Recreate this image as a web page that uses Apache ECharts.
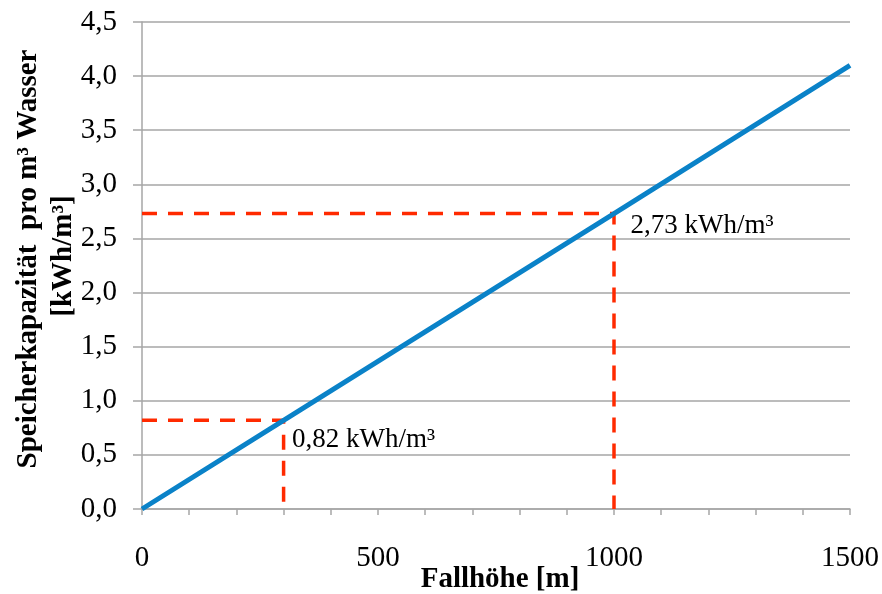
<!DOCTYPE html>
<html>
<head>
<meta charset="utf-8">
<script src="https://cdn.jsdelivr.net/npm/echarts@6/dist/echarts.min.js"></script>
<style>html,body{margin:0;padding:0;background:#fff}#c{width:882px;height:594px}</style>
</head>
<body>
<div id="c"></div>
<script>
// Data
const fallhoehe = [0, 300, 1000, 1500];
const kapazitaet = [0, 0.82, 2.73, 4.1];
const markX = [300, 1000];
const markY = [0.82, 2.73];
const markLabels = ['0,82 kWh/m³', '2,73 kWh/m³'];
const xTicks = [0, 500, 1000, 1500];
const yTitle1 = 'Speicherkapazität  pro m³ Wasser';
const yTitle2 = '[kWh/m³]';
const xTitle = 'Fallhöhe [m]';

const FONT = '"Liberation Serif","Times New Roman",serif';
const chart = echarts.init(document.getElementById('c'), null, {renderer: 'canvas'});

const mainLine = fallhoehe.map((x, i) => [x, kapazitaet[i]]);
const dashSeries = markX.map((x, i) => ({
  type: 'line',
  data: [[0, markY[i]], [x, markY[i]], [x, 0]],
  symbol: 'none',
  lineStyle: {color: '#ff2a00', width: 3.5, type: [15, 11]},
  z: 3,
  silent: true
}));
const labelOffsets = [[0, 20], [8, 12]];

chart.setOption({
  animation: false,
  grid: {left: 142, right: 32, top: 22, bottom: 85, outerBoundsMode: 'none', containLabel: false},
  xAxis: {
    type: 'value', min: 0, max: 1500, interval: 100,
    axisLine: {show: true, lineStyle: {color: '#a6a6a6', width: 1.5}},
    axisTick: {show: true, length: 6, lineStyle: {color: '#a6a6a6', width: 1.5}},
    splitLine: {show: false},
    axisLabel: {
      margin: 35, color: '#000', fontFamily: FONT, fontSize: 29,
      formatter: v => xTicks.includes(v) ? String(v) : ''
    }
  },
  yAxis: {
    type: 'value', min: 0, max: 4.5, interval: 0.5,
    axisLine: {show: true, lineStyle: {color: '#a6a6a6', width: 1.5}},
    axisTick: {show: true, length: 9, lineStyle: {color: '#a6a6a6', width: 1.5}},
    splitLine: {show: true, lineStyle: {color: '#a6a6a6', width: 1.5}},
    axisLabel: {
      margin: 25, color: '#000', fontFamily: FONT, fontSize: 29,
      formatter: v => v.toFixed(1).replace('.', ',')
    }
  },
  graphic: [
    {type: 'text', x: 29, y: 259, rotation: Math.PI / 2,
     style: {text: yTitle1, fill: '#000', font: 'bold 29px ' + FONT, textAlign: 'center', textVerticalAlign: 'middle'}},
    {type: 'text', x: 64, y: 256, rotation: Math.PI / 2,
     style: {text: yTitle2, fill: '#000', font: 'bold 29px ' + FONT, textAlign: 'center', textVerticalAlign: 'middle'}},
    {type: 'text', x: 500, y: 580,
     style: {text: xTitle, fill: '#000', font: 'bold 29px ' + FONT, textAlign: 'center', textVerticalAlign: 'middle'}}
  ],
  series: [
    ...dashSeries,
    {
      type: 'line', data: mainLine, symbol: 'none', z: 4,
      lineStyle: {color: '#0a82c8', width: 5}
    },
    {
      type: 'scatter', symbolSize: 1, itemStyle: {color: 'rgba(0,0,0,0)'}, z: 5,
      data: markX.map((x, i) => ({value: [x, markY[i]], label: {formatter: markLabels[i], offset: labelOffsets[i], color: '#000'}})),
      label: {show: true, position: 'right', distance: 8, opacity: 1,
        color: '#000', fontFamily: FONT, fontSize: 27}
    }
  ]
});
</script>
</body>
</html>
